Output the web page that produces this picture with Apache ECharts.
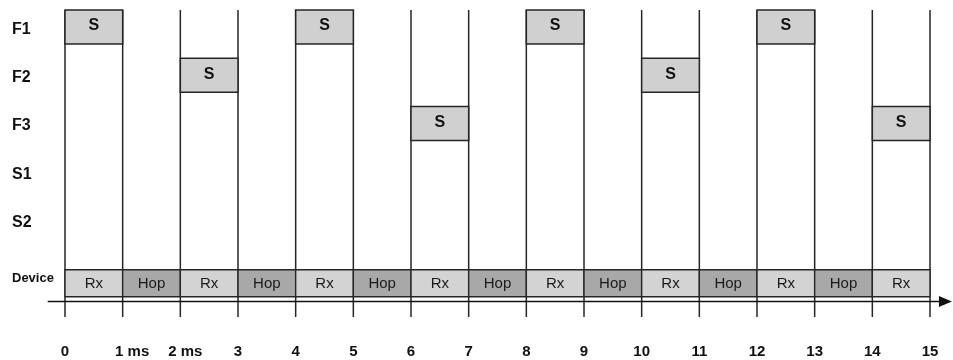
<!DOCTYPE html>
<html>
<head>
<meta charset="utf-8">
<script src="https://cdn.jsdelivr.net/npm/echarts@6/dist/echarts.min.js"></script>
<style>
  html, body { margin: 0; padding: 0; background: #fff; }
  #chart { width: 953px; height: 360px; }
</style>
</head>
<body>
<div id="chart"></div>
<script>
// rows on the left, top to bottom
const rowNames = ['F1', 'F2', 'F3', 'S1', 'S2', 'Device'];
const rowPos = [0, 1, 2, 3, 4, 5.3];

// time slot edges and their labels
const slotEdges = [0, 1, 2, 3, 4, 5, 6, 7, 8, 9, 10, 11, 12, 13, 14, 15];
const tickLabels = ['0', '1 ms', '2 ms', '3', '4', '5', '6', '7', '8', '9', '10', '11', '12', '13', '14', '15'];

// what the device does in each slot
const deviceStates = ['Rx', 'Hop', 'Rx', 'Hop', 'Rx', 'Hop', 'Rx', 'Hop', 'Rx', 'Hop', 'Rx', 'Hop', 'Rx', 'Hop', 'Rx'];

// slots with an S box and the row it sits in
const sSlots = [0, 2, 4, 6, 8, 10, 12, 14];
const sRows = ['F1', 'F2', 'F1', 'F3', 'F1', 'F2', 'F1', 'F3'];

const Y_MIN = -0.35, Y_MAX = 6.01;
const FONT = '"Liberation Sans", Arial, sans-serif';
const LINE = '#262626';

const chart = echarts.init(document.getElementById('chart'));

function rowValue(name) {
    return rowPos[rowNames.indexOf(name)];
}

chart.setOption({
    animation: false,
    grid: { left: 65, right: 23, top: 10, bottom: 43 },
    xAxis: {
        type: 'value',
        min: 0,
        max: 15,
        interval: 1,
        splitLine: { show: false },
        axisLine: { show: false },
        axisTick: { show: false },
        axisLabel: {
            margin: 27,
            showMinLabel: true,
            showMaxLabel: true,
            fontFamily: FONT,
            fontWeight: 'bold',
            fontSize: 15,
            color: '#111',
            formatter: v => {
                const t = tickLabels[Math.round(v)];
                if (v === 1) return '{a|' + t + '}';
                if (v === 2) return '{b|' + t + '}';
                return t;
            },
            rich: {
                a: { fontFamily: FONT, fontWeight: 'bold', fontSize: 15, color: '#111', padding: [0, 0, 0, 19] },
                b: { fontFamily: FONT, fontWeight: 'bold', fontSize: 15, color: '#111', padding: [0, 0, 0, 10] }
            }
        }
    },
    yAxis: {
        type: 'value',
        inverse: true,
        min: Y_MIN,
        max: Y_MAX,
        splitLine: { show: false },
        axisLine: { show: false },
        axisTick: { show: false },
        axisLabel: {
            customValues: rowPos,
            align: 'left',
            margin: 53,
            formatter: v => {
                const i = rowPos.findIndex(p => Math.abs(p - v) < 1e-6);
                const name = i < 0 ? '' : rowNames[i];
                return name === 'Device' ? '{d|' + name + '}' : '{r|' + name + '}';
            },
            rich: {
                r: { fontFamily: FONT, fontWeight: 'bold', fontSize: 16, color: '#111', padding: [5, 0, 0, 0] },
                d: { fontFamily: FONT, fontWeight: 'bold', fontSize: 13, color: '#111', padding: [0, 0, 8, 0] }
            }
        }
    },
    series: [
        {
            // vertical slot boundaries
            type: 'custom',
            data: slotEdges.map(x => [x]),
            renderItem: (params, api) => {
                const top = api.coord([api.value(0), Y_MIN]);
                const bottom = api.coord([api.value(0), Y_MAX]);
                return {
                    type: 'line',
                    shape: { x1: top[0], y1: top[1], x2: bottom[0], y2: bottom[1] },
                    style: { stroke: LINE, lineWidth: 1.5 }
                };
            }
        },
        {
            // axis arrow
            type: 'custom',
            data: [[-0.3, 15.38, 5.69]],
            renderItem: (params, api) => {
                const a = api.coord([api.value(0), api.value(2)]);
                const b = api.coord([api.value(1), api.value(2)]);
                return {
                    type: 'group',
                    children: [
                        {
                            type: 'line',
                            shape: { x1: a[0], y1: a[1], x2: b[0] - 8, y2: b[1] },
                            style: { stroke: '#111', lineWidth: 1.6 }
                        },
                        {
                            type: 'polygon',
                            shape: { points: [[b[0] - 13, b[1] - 5.5], [b[0], b[1]], [b[0] - 13, b[1] + 5.5]] },
                            style: { fill: '#111' }
                        }
                    ]
                };
            }
        },
        {
            // device row
            type: 'custom',
            data: deviceStates.map((s, i) => [i, i + 1, rowValue('Device'), s]),
            renderItem: (params, api) => {
                const a = api.coord([api.value(0), api.value(2)]);
                const b = api.coord([api.value(1), api.value(2)]);
                const state = deviceStates[params.dataIndex];
                const y0 = a[1] - 13, h = 27;
                return {
                    type: 'group',
                    children: [
                        {
                            type: 'rect',
                            shape: { x: a[0], y: y0, width: b[0] - a[0], height: h },
                            style: { fill: state === 'Rx' ? '#d3d3d3' : '#a8a8a8', stroke: LINE, lineWidth: 1.4 }
                        },
                        {
                            type: 'text',
                            style: {
                                text: state,
                                x: (a[0] + b[0]) / 2,
                                y: y0 + h / 2 + 1,
                                align: 'center',
                                verticalAlign: 'middle',
                                fontFamily: FONT,
                                fontSize: 15,
                                fill: '#1a1a1a'
                            }
                        }
                    ]
                };
            }
        },
        {
            // S boxes
            type: 'custom',
            data: sSlots.map((s, i) => [s, s + 1, rowValue(sRows[i])]),
            renderItem: (params, api) => {
                const a = api.coord([api.value(0), api.value(2)]);
                const b = api.coord([api.value(1), api.value(2)]);
                const y0 = a[1] - 17, h = 34;
                return {
                    type: 'group',
                    children: [
                        {
                            type: 'rect',
                            shape: { x: a[0], y: y0, width: b[0] - a[0], height: h },
                            style: { fill: '#d0d0d0', stroke: LINE, lineWidth: 1.5 }
                        },
                        {
                            type: 'text',
                            style: {
                                text: 'S',
                                x: (a[0] + b[0]) / 2,
                                y: y0 + h / 2 - 1,
                                align: 'center',
                                verticalAlign: 'middle',
                                fontFamily: FONT,
                                fontWeight: 'bold',
                                fontSize: 16,
                                fill: '#111'
                            }
                        }
                    ]
                };
            }
        }
    ]
});
</script>
</body>
</html>
